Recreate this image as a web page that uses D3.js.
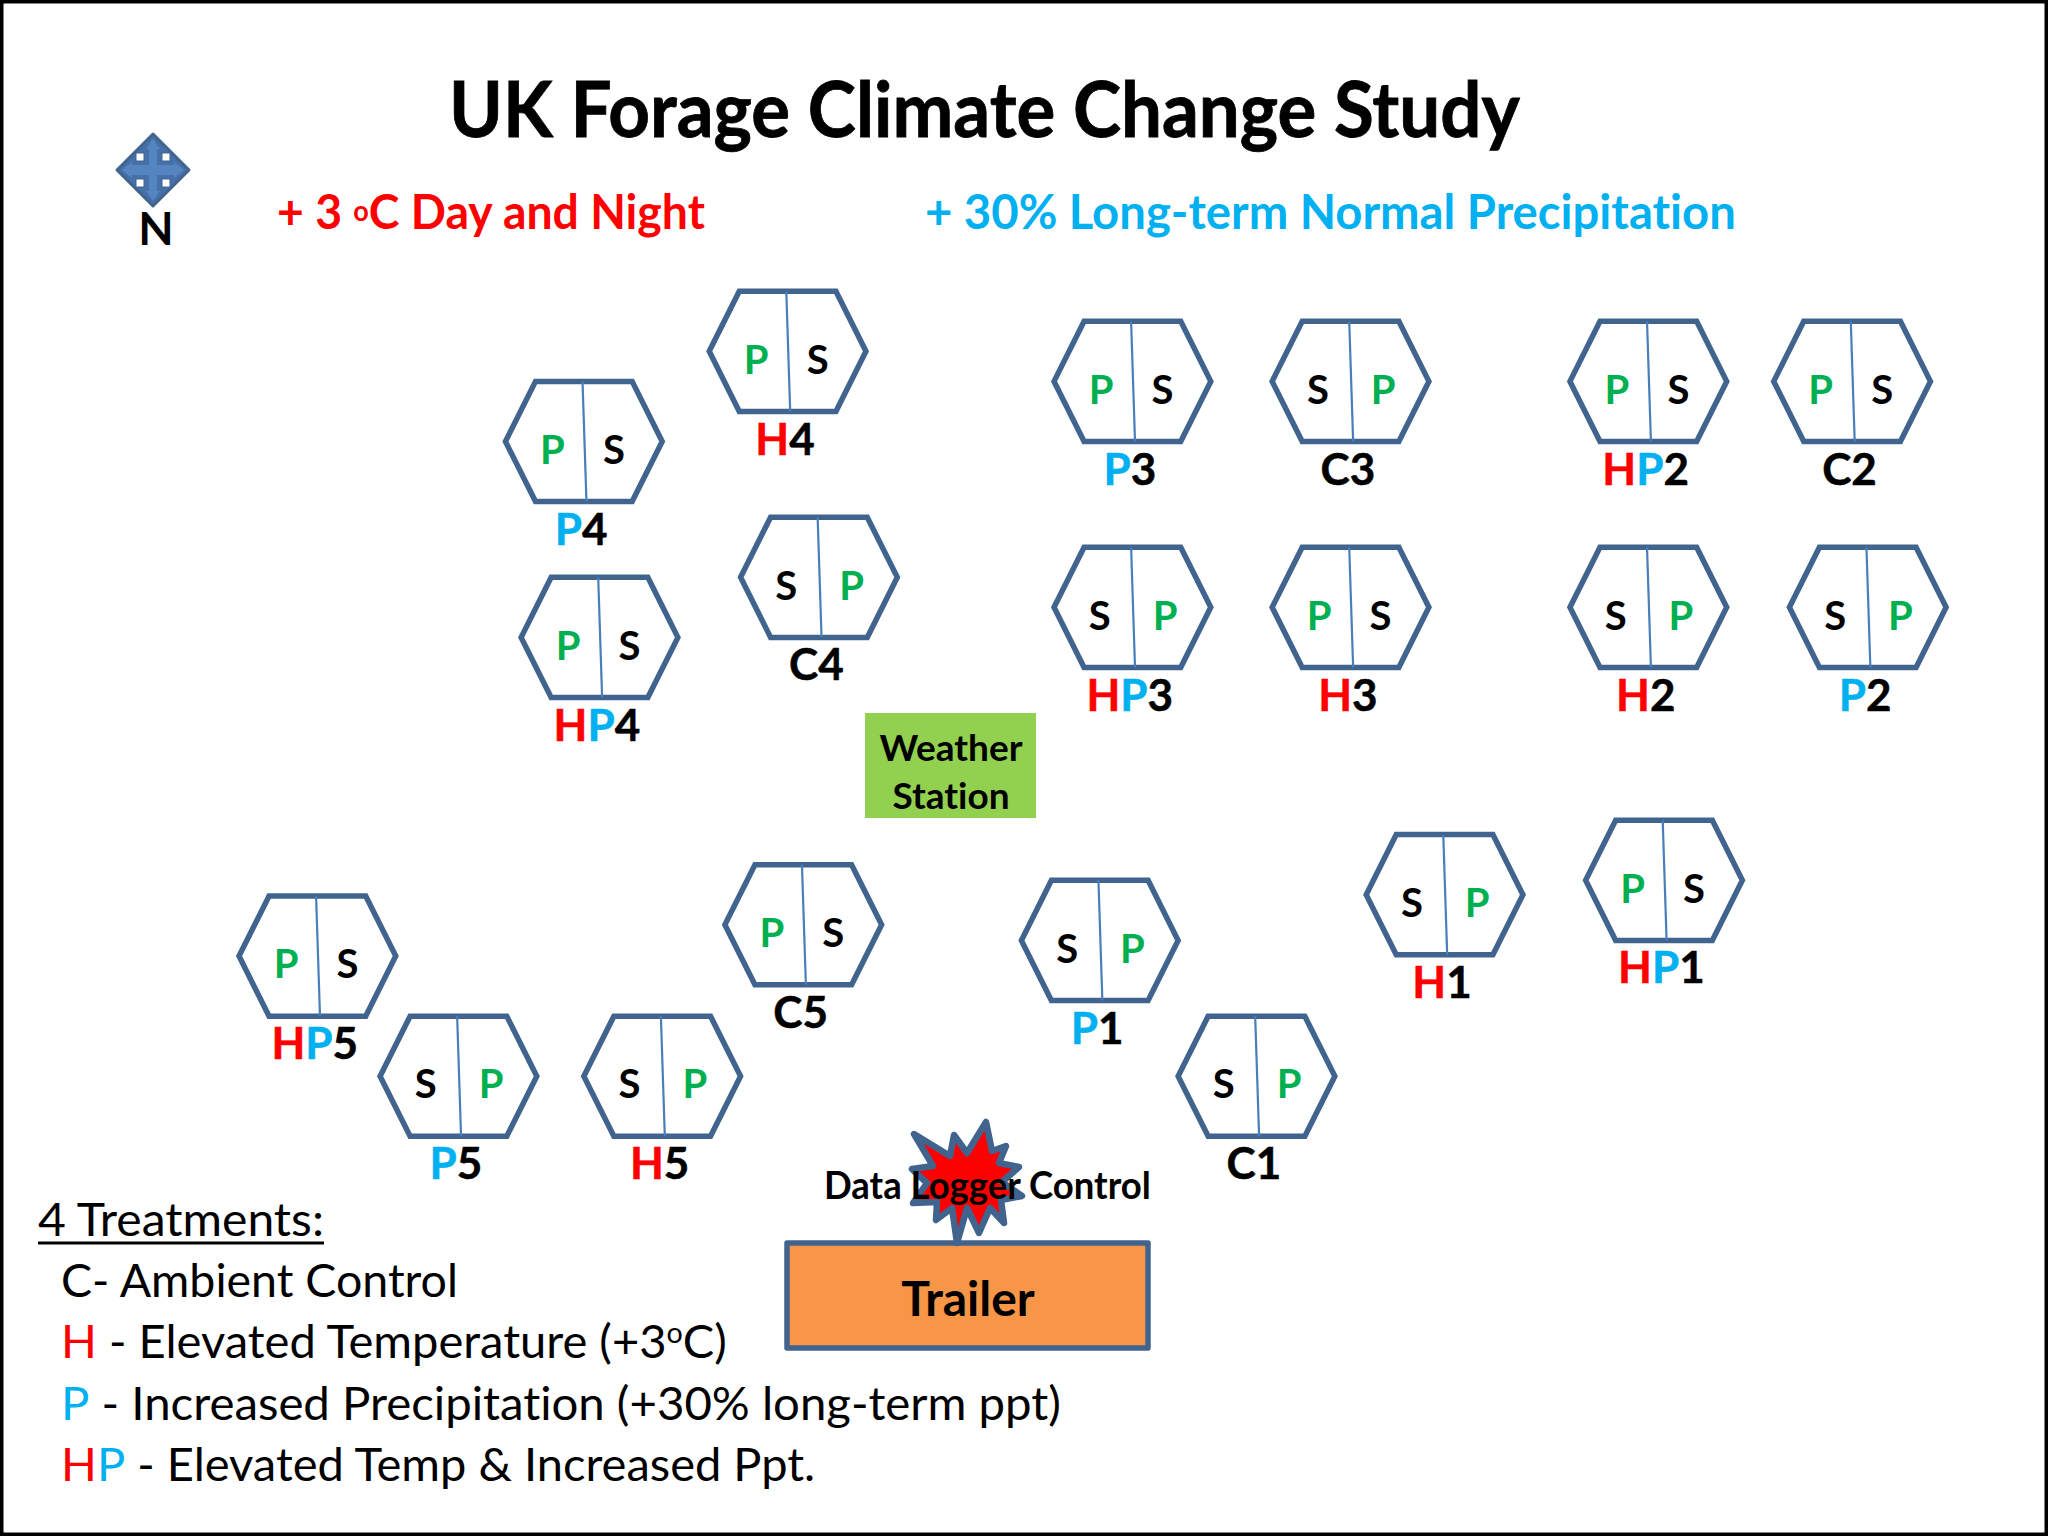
<!DOCTYPE html>
<html>
<head>
<meta charset="utf-8">
<script src="https://cdn.jsdelivr.net/npm/d3@7"></script>
<style>
  html, body { margin: 0; padding: 0; background: #fff; }
  svg { display: block; }
  text { font-family: Lato, "Open Sans", sans-serif; font-variant-ligatures: none; }
</style>
</head>
<body>
<div id="chart"></div>
<script>
// field plots
const plotNames = ['H4', 'P4', 'C4', 'HP4', 'P3', 'C3', 'HP2', 'C2', 'HP3', 'H3', 'H2', 'P2', 'H1', 'HP1', 'P1', 'C1', 'C5', 'HP5', 'P5', 'H5'];
const plotEast = [603, 447, 627, 459, 867, 1034, 1262, 1418, 867, 1034, 1262, 1430, 1106, 1274, 842, 962, 615, 243, 351, 507];
const plotSouth = [269, 338, 442, 488, 292, 292, 292, 292, 465, 465, 465, 465, 685, 674, 720, 824, 708, 732, 824, 824];
const plotLeft = ['P', 'P', 'S', 'P', 'P', 'S', 'P', 'P', 'S', 'P', 'S', 'S', 'S', 'P', 'S', 'S', 'P', 'P', 'S', 'S'];

const legendLines = [
  [['C- Ambient Control', 'black']],
  [['H', 'red'], [' - Elevated Temperature (+3', 'black'], ['o', 'sup'], ['C)', 'black']],
  [['P', 'blue'], [' - Increased Precipitation (+30% long-term ppt)', 'black']],
  [['HP', 'both'], [' - Elevated Temp & Increased Ppt.', 'black']]
];
const legendWidths = [397, 666, 999, 753];

const burstX = [914, 950, 954, 967, 986, 992, 1006, 999, 1019, 1002, 1022, 1001, 1004, 990, 979, 967, 957, 952, 936, 937, 913, 927, 912, 933];
const burstY = [1134, 1156, 1135, 1153, 1122, 1151, 1146, 1163, 1167, 1182, 1196, 1200, 1223, 1208, 1233, 1208, 1243, 1208, 1220, 1202, 1203, 1183, 1169, 1166];

const W = 2048, H = 1536;
const RED = '#ff0000', BLUE = '#00b0f0', GREEN = '#00b050', EDGE = '#41648f', DIVIDER = '#4a7ebb';

// plot coordinates were measured on a 1568 wide copy
const x = d3.scaleLinear().domain([0, 1568]).range([0, W]);
const y = d3.scaleLinear().domain([0, 1176]).range([0, H]);

const svg = d3.select('#chart').append('svg').attr('width', W).attr('height', H);
svg.append('rect').attr('width', W).attr('height', H)
  .attr('fill', '#fff').attr('stroke', '#000').attr('stroke-width', 7);

// squeeze Lato to the width of the original narrower face
function fit(sel, x0, width) {
  const len = sel.node().getComputedTextLength();
  const baseY = +sel.attr('y');
  sel.attr('x', 0).attr('y', 0)
    .attr('transform', `translate(${x0},${baseY}) scale(${width / len},1)`);
  return sel;
}

function label(txt, px, py, size, weight, fill) {
  return svg.append('text').attr('x', px).attr('y', py)
    .attr('font-size', size).attr('font-weight', weight).attr('fill', fill).text(txt);
}

// titles
fit(label('UK Forage Climate Change Study', 449, 137, 76, 700, '#000'), 449, 1071)
  .attr('stroke', '#000').attr('stroke-width', 0.8);

const warm = svg.append('text').attr('x', 277).attr('y', 229)
  .attr('font-size', 48).attr('font-weight', 700).attr('fill', RED);
warm.append('tspan').text('+ 3 ');
warm.append('tspan').attr('font-size', 28).attr('dy', -8).text('o');
warm.append('tspan').attr('dy', 8).text('C Day and Night');
fit(warm, 277, 428);

fit(label('+ 30% Long-term Normal Precipitation', 925, 229, 48, 700, BLUE), 925, 811);

// compass
const compass = svg.append('g').attr('transform', 'translate(153,170)');
const diamond = d3.line()([[0, -36], [36, 0], [0, 36], [-36, 0]]) + 'Z';
compass.append('path').attr('d', diamond).attr('fill', '#4671a8')
  .attr('stroke', EDGE).attr('stroke-width', 3).attr('stroke-linejoin', 'round');
const arrow = d3.line()([[0, -31], [7, -21], [4, -21], [4, -5], [21, -5], [21, -8], [31, 0], [21, 8], [21, 5], [4, 5], [4, 21], [7, 21], [0, 31], [-7, 21], [-4, 21], [-4, 5], [-21, 5], [-21, 8], [-31, 0], [-21, -8], [-21, -5], [-4, -5], [-4, -21], [-7, -21]]) + 'Z';
compass.append('path').attr('d', arrow).attr('fill', '#5585c0');
compass.selectAll('rect').data([[-13, -13], [13, -13], [-13, 13], [13, 13]]).join('rect')
  .attr('x', d => d[0] - 4).attr('y', d => d[1] - 4).attr('width', 8).attr('height', 8)
  .attr('fill', '#fff').attr('stroke', EDGE).attr('stroke-width', 1);
label('N', 156, 245, 46, 700, '#000').attr('text-anchor', 'middle');

// weather station
svg.append('rect').attr('x', 865).attr('y', 713).attr('width', 171).attr('height', 105).attr('fill', '#92d050');
label('Weather', 951, 761, 37, 700, '#000').attr('text-anchor', 'middle');
label('Station', 951, 809, 37, 700, '#000').attr('text-anchor', 'middle');

// plots
const hexPath = d3.line().x(d => d[0]).y(d => d[1]);
const hexShape = [[-60, 0], [-37, -46], [37, -46], [60, 0], [37, 46], [-37, 46]];

const plots = svg.selectAll('g.plot')
  .data(plotNames.map((name, i) => ({ name, east: plotEast[i], south: plotSouth[i], left: plotLeft[i] })))
  .join('g').attr('class', 'plot')
  .attr('transform', d => `translate(${x(d.east)},${y(d.south)})`);

const scaled = hexShape.map(p => [x(p[0]), y(p[1])]);
plots.append('path').attr('d', hexPath(scaled) + 'Z')
  .attr('fill', '#fff').attr('stroke', EDGE).attr('stroke-width', 5.5);
plots.append('line')
  .attr('x1', x(-1)).attr('y1', y(-46)).attr('x2', x(2)).attr('y2', y(46))
  .attr('stroke', DIVIDER).attr('stroke-width', 2.2);

plots.selectAll('text.sub')
  .data(d => d.left === 'P'
    ? [['P', -24, GREEN], ['S', 23, '#000']]
    : [['S', -25, '#000'], ['P', 25, GREEN]])
  .join('text').attr('class', 'sub')
  .attr('x', d => x(d[1])).attr('y', y(17))
  .attr('text-anchor', 'middle').attr('font-size', 40).attr('font-weight', 700)
  .attr('fill', d => d[2]).text(d => d[0]);

plots.each(function (d) {
  const t = d3.select(this).append('text')
    .attr('x', x(-2)).attr('y', y(79))
    .attr('text-anchor', 'middle').attr('font-size', 44).attr('font-weight', 700);
  for (const ch of d.name) {
    const col = ch === 'H' ? RED : ch === 'P' ? BLUE : '#000';
    t.append('tspan').attr('fill', col).attr('stroke', col).attr('stroke-width', 0.5).text(ch);
  }
});

// trailer and logger
svg.append('rect').attr('x', 787).attr('y', 1243).attr('width', 361).attr('height', 105)
  .attr('fill', '#f79646').attr('stroke', EDGE).attr('stroke-width', 5.5).attr('stroke-linejoin', 'round');
label('Trailer', 968, 1316, 48, 700, '#000').attr('text-anchor', 'middle');

const burst = burstX.map((bx, i) => [bx, burstY[i]]);
svg.append('path').attr('d', d3.line()(burst) + 'Z')
  .attr('fill', RED).attr('stroke', EDGE).attr('stroke-width', 6.5).attr('stroke-linejoin', 'round');
fit(label('Data Logger Control', 824, 1199, 38, 700, '#000'), 824, 327);

// treatments legend
const head = label('4 Treatments:', 38, 1236, 46, 400, '#000');
fit(head, 38, 286);
svg.append('line').attr('x1', 38).attr('x2', 324).attr('y1', 1243).attr('y2', 1243)
  .attr('stroke', '#000').attr('stroke-width', 3);

legendLines.forEach((parts, i) => {
  const t = svg.append('text').attr('x', 61).attr('y', 1297 + i * 61.3).attr('font-size', 46);
  for (const [s, kind] of parts) {
    if (kind === 'both') {
      t.append('tspan').attr('fill', RED).text('H');
      t.append('tspan').attr('fill', BLUE).text('P');
    } else if (kind === 'sup') {
      t.append('tspan').attr('font-size', 28).attr('dy', -15).text(s);
    } else {
      const sp = t.append('tspan').text(s)
        .attr('fill', kind === 'red' ? RED : kind === 'blue' ? BLUE : '#000');
      if (s === 'C)') sp.attr('dy', 15);
    }
  }
  fit(t, 61, legendWidths[i]);
});
</script>
</body>
</html>
